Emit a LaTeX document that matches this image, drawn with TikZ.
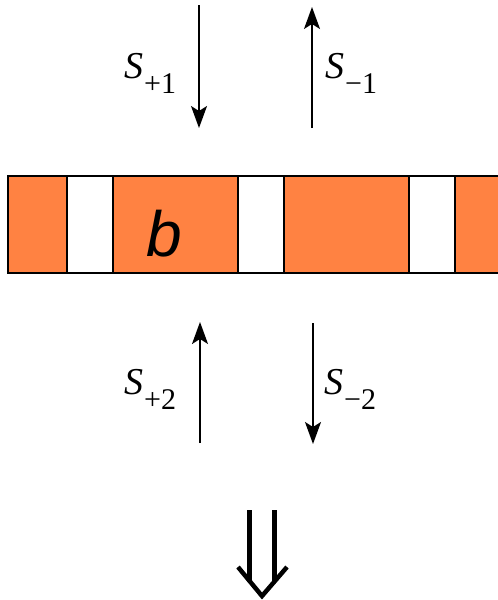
\documentclass[tikz,border=0pt]{standalone}
\usepackage{fontspec}
\setmainfont{Liberation Serif}
\newfontfamily\bfont{Liberation Sans}
\usetikzlibrary{arrows.meta}
\definecolor{stripor}{RGB}{255,130,66}
\newcommand{\slab}[1]{{\fontsize{38}{38}\selectfont\textit{S}}\kern1pt\raisebox{-15pt}{\fontsize{30}{30}\selectfont #1}}
\tikzset{
  seg/.style={draw=black,line width=2pt},
  flux/.style={line width=1.5pt,-{Stealth[length=22pt,width=16pt,inset=5pt]}},
  lbl/.style={inner sep=0pt,anchor=base west},
  dbl/.style={line width=4.5pt},
}
\begin{document}
\begin{tikzpicture}[x=1pt,y=-1pt]
\useasboundingbox (0,0) rectangle (498,600);
% strip
\fill[stripor] (8,176) rectangle (498,273);
\fill[white] (67,176) rectangle (113,273);
\fill[white] (238,176) rectangle (284,273);
\fill[white] (409,176) rectangle (455,273);
\draw[seg] (498,176) -- (8,176) -- (8,273) -- (498,273);
\foreach \x in {67,113,238,284,409,455} \draw[seg] (\x,176) -- (\x,273);
\node[inner sep=0pt] (b) at (164,234) {\bfont\fontsize{64}{64}\selectfont\textit{b}};
% top arrows
\coordinate (a1s) at (199,5);   \coordinate (a1e) at (199,128);
\coordinate (a2s) at (312,128); \coordinate (a2e) at (312,7);
\draw[flux] (a1s) -- (a1e);
\draw[flux] (a2s) -- (a2e);
\node[lbl] (sp1) at (124,78) {\slab{+1}};
\node[lbl] (sm1) at (325,78) {\slab{−1}};
% bottom arrows
\coordinate (a3s) at (200,443); \coordinate (a3e) at (200,322);
\coordinate (a4s) at (313,323); \coordinate (a4e) at (313,444);
\draw[flux] (a3s) -- (a3e);
\draw[flux] (a4s) -- (a4e);
\node[lbl] (sp2) at (124,394) {\slab{+2}};
\node[lbl] (sm2) at (324,394) {\slab{−2}};
% double arrow
\coordinate (d1) at (249.5,510); \coordinate (d2) at (274.5,510);
\coordinate (dl) at (238,567); \coordinate (dt) at (262,596); \coordinate (dr) at (287,567);
\draw[dbl] (d1) -- (249.5,582);
\draw[dbl] (d2) -- (274.5,582);
\draw[dbl,line join=miter] (dl) -- (dt) -- (dr);
\end{tikzpicture}
\end{document}
